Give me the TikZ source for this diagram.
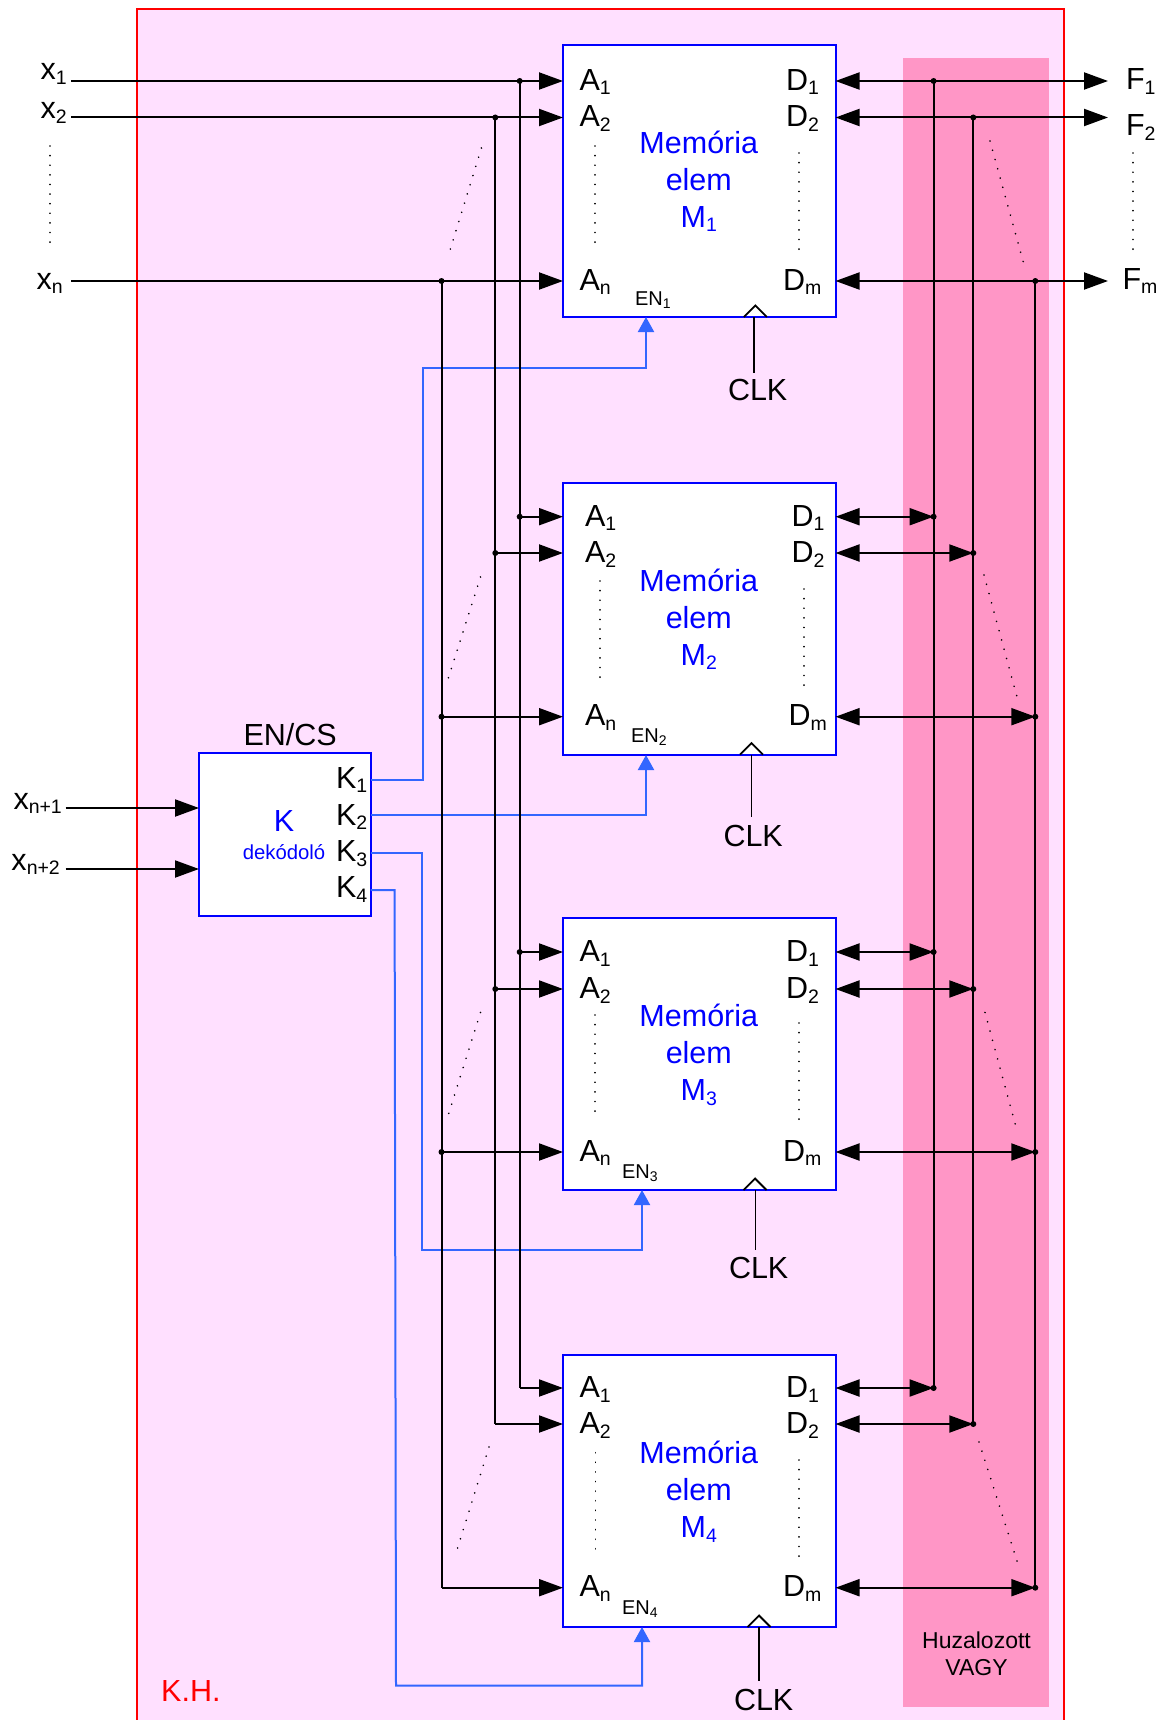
\documentclass[tikz,border=0pt]{standalone}
\usepackage{fontspec}
\setmainfont{Liberation Sans}
\usetikzlibrary{arrows.meta}
\definecolor{bgpink}{HTML}{FFE0FF}
\definecolor{bandpink}{HTML}{FF96C6}
\definecolor{wireblue}{HTML}{3366FF}
\definecolor{boxblue}{HTML}{0000FF}
\newcommand\subs[1]{\raisebox{-4.5pt}{\fontsize{19.5}{19.5}\selectfont #1}}
\newcommand\smallsubs[1]{\raisebox{-3pt}{\fontsize{14}{14}\selectfont #1}}
\tikzset{
  sig/.style={draw=black,line width=2pt,-{Triangle[length=24pt,width=17pt]}},
  bidir/.style={draw=black,line width=2pt,{Triangle[length=24pt,width=17pt]}-{Triangle[length=24pt,width=17pt]}},
  bus/.style={draw=black,line width=2pt},
  enwire/.style={draw=wireblue,line width=2pt,-{Triangle[length=15pt,width=16pt]}},
  clkwire/.style={draw=black,line width=1.8pt},
  dotline/.style={draw=black,line width=1.8pt,line cap=round,dash pattern=on 0.01pt off 9.6pt,shorten >=-2.5pt},
  membox/.style={draw=boxblue,fill=white,line width=2pt,anchor=north west,minimum width=272.5pt,minimum height=272pt,inner sep=0pt,outer sep=0pt},
  decbox/.style={draw=boxblue,fill=white,line width=2pt,anchor=north west,minimum width=171.5pt,minimum height=163.5pt,inner sep=0pt,outer sep=0pt},
  lbl/.style={anchor=base west,inner sep=0pt,outer sep=0pt,font=\fontsize{30.5}{36}\selectfont,text=black},
  mtext/.style={anchor=base,inner sep=0pt,outer sep=0pt,font=\fontsize{30.5}{36}\selectfont,text=boxblue},
  entext/.style={anchor=base west,inner sep=0pt,outer sep=0pt,font=\fontsize{20}{24}\selectfont,text=black},
  jdot/.style={circle,fill=black,minimum size=6pt,inner sep=0pt,outer sep=0pt},
}
\begin{document}
\begin{tikzpicture}[x=1pt,y=-1pt]
\useasboundingbox (0,0) rectangle (1166,1720);
% background
\fill[bgpink] (137,9) rectangle (1064,1720);
\fill[bandpink] (903,58) rectangle (1049,1707);
\draw[red,line width=1.8pt] (137,1720) -- (137,9) -- (1064,9) -- (1064,1720);
% memory blocks
\foreach \i/\t/\ya/\yb/\yn/\dx/\enx/\eny/\apx/\clkx/\clkbot/\clklx/\clkb in {
  1/45/81/117.5/281/0/635/305/755.3/754/373/728/400.7,
  2/482.7/516.7/553/716.7/5.5/631/742.5/751.5/751.5/817/723.5/846,
  3/918/952/989/1152/0/622/1178/755/755.5/1250/729/1278,
  4/1355/1388/1424/1587.7/0/622/1614/759/759/1680.7/734/1710.7}{
  \node[membox] (m\i) at (563,\t) {};
  \pgfmathsetmacro\ax{579.5+\dx}
  \pgfmathsetmacro\dax{786+\dx}
  \pgfmathsetmacro\dmx{783+\dx}
  \pgfmathsetmacro\ba{\ya+9.5}
  \pgfmathsetmacro\bb{\yb+9.5}
  \pgfmathsetmacro\bn{\yn+9}
  \pgfmathsetmacro\tmem{\t+108.5}
  \pgfmathsetmacro\telem{\t+145.5}
  \pgfmathsetmacro\tm{\t+182.5}
  \pgfmathsetmacro\bot{\t+272}
  \pgfmathsetmacro\apy{\t+260.5}
  \pgfmathsetmacro\lft{\apx-11.5}
  \pgfmathsetmacro\rgt{\apx+11.5}
  \node[lbl] (la\i-1) at (\ax,\ba) {A\subs{1}};
  \node[lbl] (la\i-2) at (\ax,\bb) {A\subs{2}};
  \node[lbl] (la\i-n) at (\ax,\bn) {A\subs{n}};
  \node[lbl] (ld\i-1) at (\dax,\ba) {D\subs{1}};
  \node[lbl] (ld\i-2) at (\dax,\bb) {D\subs{2}};
  \node[lbl] (ld\i-m) at (\dmx,\bn) {D\subs{m}};
  \node[mtext] (mem\i) at (698.8,\tmem) {Memória};
  \node[mtext] (elem\i) at (698.8,\telem) {elem};
  \node[mtext] (mm\i) at (698.8,\tm) {M\subs{\i}};
  \node[entext] (en\i) at (\enx,\eny) {EN\smallsubs{\i}};
  \node[lbl] (clk\i) at (\clklx,\clkb) {CLK};
  \coordinate (ck\i) at (\clkx,\bot);
  \coordinate (ckb\i) at (\clkx,\clkbot);
  \draw[clkwire] (ck\i) -- (ckb\i);
  \draw[black,line width=1.8pt] (\lft,\bot) -- (\apx,\apy) -- (\rgt,\bot);
  \coordinate (pa\i-1) at (m\i.west |- 0,\ya);
  \coordinate (pa\i-2) at (m\i.west |- 0,\yb);
  \coordinate (pa\i-n) at (m\i.west |- 0,\yn);
  \coordinate (pd\i-1) at (m\i.east |- 0,\ya);
  \coordinate (pd\i-2) at (m\i.east |- 0,\yb);
  \coordinate (pd\i-m) at (m\i.east |- 0,\yn);
  \coordinate (ja\i-1) at (519.7,\ya);
  \coordinate (ja\i-2) at (495.3,\yb);
  \coordinate (ja\i-n) at (441.5,\yn);
  \coordinate (jd\i-1) at (933.6,\ya);
  \coordinate (jd\i-2) at (973.3,\yb);
  \coordinate (jd\i-m) at (1035.3,\yn);
}
% dotted guides
\draw[dotline] (50,146) -- (50,243);
\draw[dotline] (595,146) -- (595,243);
\draw[dotline] (799,153) -- (799,249);
\draw[dotline] (1133,153) -- (1133,249);
\draw[dotline] (481.4,148) -- (450.4,249);
\draw[dotline] (990,141) -- (1023,261);
\draw[dotline] (600,581) -- (600,678);
\draw[dotline] (804,589) -- (804,686);
\draw[dotline] (480.5,577) -- (448.7,677);
\draw[dotline] (984,575) -- (1017,697);
\draw[dotline] (595,1015) -- (595,1113);
\draw[dotline] (799,1023) -- (799,1120);
\draw[dotline] (480.5,1012.5) -- (448.7,1113.5);
\draw[dotline] (985,1012.5) -- (1016,1127);
\draw[dotline] (595.4,1452.7) -- (595.4,1549);
\draw[dotline] (799,1460) -- (799,1556);
\draw[dotline] (489,1447) -- (457.6,1548);
\draw[dotline] (979,1442) -- (1017,1561);
% decoder
\node[decbox] (dec) at (199,752.7) {};
\node[lbl] (encs) at (243.5,745.7) {EN/CS};
\node[mtext] (ktxt) at (284,831.7) {K};
\node[anchor=base,inner sep=0pt,font=\fontsize{20.3}{24}\selectfont,text=boxblue] (dektxt) at (284,859) {dekódoló};
\node[lbl] (k1) at (336,788) {K\subs{1}};
\node[lbl] (k2) at (336,825) {K\subs{2}};
\node[lbl] (k3) at (336,861.7) {K\subs{3}};
\node[lbl] (k4) at (336,897.5) {K\subs{4}};
% blue enable wires
\coordinate (ko1) at (dec.east |- 0,780);
\coordinate (ko2) at (dec.east |- 0,814.7);
\coordinate (ko3) at (dec.east |- 0,852.7);
\coordinate (ko4) at (dec.east |- 0,890);
\coordinate (en1t) at (646,317);
\coordinate (en2t) at (646,755);
\coordinate (en3t) at (642,1190);
\coordinate (en4t) at (642,1627);
\draw[enwire] (ko1) -- (423,780) -- (423,368) -- (646,368) -- (en1t);
\draw[enwire] (ko2) -- (646,814.7) -- (en2t);
\draw[enwire] (ko3) -- (421.5,852.7) -- (421.5,1250) -- (642,1250) -- (en3t);
\draw[enwire] (ko4) -- (394.6,890) -- (396,1685.7) -- (642,1685.7) -- (en4t);
% input labels and lines
\node[lbl] (x1) at (40.5,80) {x\subs{1}};
\node[lbl] (x2) at (40.5,119) {x\subs{2}};
\node[lbl] (xn) at (36.5,289) {x\subs{n}};
\node[lbl] (xna) at (13.5,809) {x\subs{n+1}};
\node[lbl] (xnb) at (11.5,870) {x\subs{n+2}};
\coordinate (ix1) at (71,81);
\coordinate (ix2) at (71,117.5);
\coordinate (ixn) at (71,281);
\coordinate (ixa) at (65.6,808);
\coordinate (ixb) at (65.6,869);
\draw[sig] (ixa) -- (dec.west |- ixa);
\draw[sig] (ixb) -- (dec.west |- ixb);
\draw[sig] (ix1) -- (pa1-1);
\draw[sig] (ix2) -- (pa1-2);
\draw[sig] (ixn) -- (pa1-n);
% address buses
\draw[bus] (ja1-1) -- (ja4-1);
\draw[bus] (ja1-2) -- (ja4-2);
\draw[bus] (ja1-n) -- (ja4-n);
\foreach \i in {2,3,4}{
  \draw[sig] (ja\i-1) -- (pa\i-1);
  \draw[sig] (ja\i-2) -- (pa\i-2);
  \draw[sig] (ja\i-n) -- (pa\i-n);
}
\foreach \i in {1,2,3}{
  \node[jdot] at (ja\i-1) {};
  \node[jdot] at (ja\i-2) {};
  \node[jdot] at (ja\i-n) {};
}
% outputs
\node[lbl] (f1) at (1126,90) {F\subs{1}};
\node[lbl] (f2) at (1126,136) {F\subs{2}};
\node[lbl] (fm) at (1122.5,289.3) {F\subs{m}};
\coordinate (of1) at (1108,81);
\coordinate (of2) at (1108,117.5);
\coordinate (ofm) at (1108,281);
\draw[bidir] (pd1-1) -- (of1);
\draw[bidir] (pd1-2) -- (of2);
\draw[bidir] (pd1-m) -- (ofm);
\draw[bus] (jd1-1) -- (jd4-1);
\draw[bus] (jd1-2) -- (jd4-2);
\draw[bus] (jd1-m) -- (jd4-m);
\foreach \i in {2,3,4}{
  \draw[bidir] (pd\i-1) -- (jd\i-1);
  \draw[bidir] (pd\i-2) -- (jd\i-2);
  \draw[bidir] (pd\i-m) -- (jd\i-m);
}
\foreach \i in {1,2,3,4}{
  \node[jdot] at (jd\i-1) {};
  \node[jdot] at (jd\i-2) {};
  \node[jdot] at (jd\i-m) {};
}
% captions
\node[anchor=base west,inner sep=0pt,font=\fontsize{30.5}{36}\selectfont,text=red] (kh) at (161,1701) {K.H.};
\node[anchor=base,inner sep=0pt,font=\fontsize{23}{27}\selectfont] (huz) at (976.5,1648) {Huzalozott};
\node[anchor=base,inner sep=0pt,font=\fontsize{23}{27}\selectfont] (vagy) at (976.5,1675.7) {VAGY};
\end{tikzpicture}
\end{document}
